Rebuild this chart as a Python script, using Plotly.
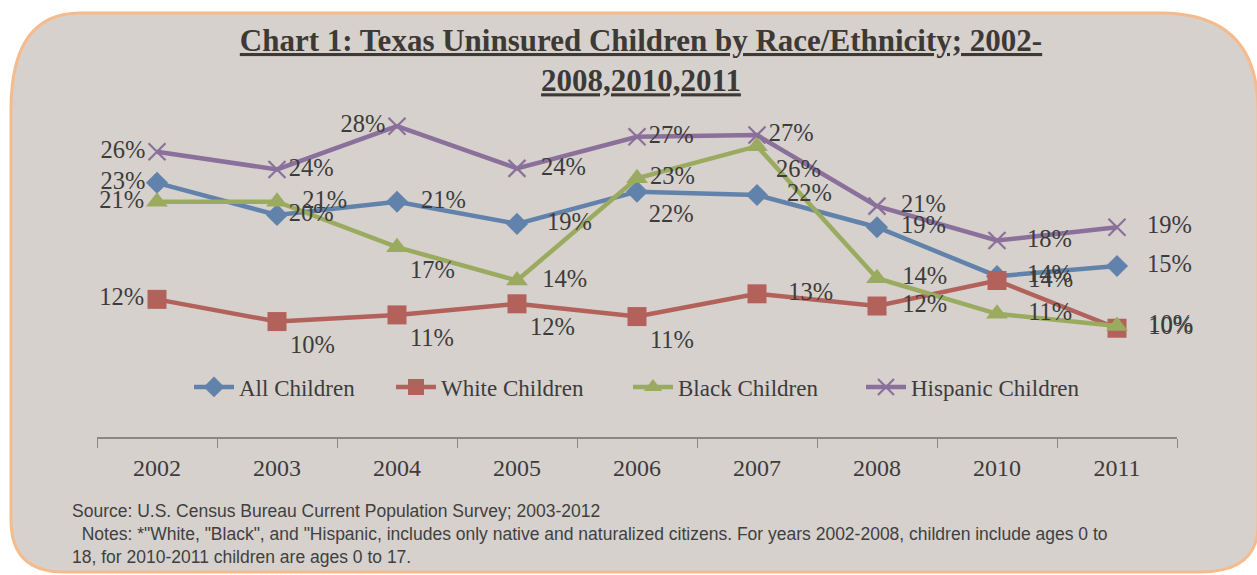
import plotly.graph_objects as go

W, H = 1257, 575
ML, MR, MT, MB = 97, 80, 104, 138

years = ["2002", "2003", "2004", "2005", "2006", "2007", "2008", "2010", "2011"]
all_children = [0.229, 0.200, 0.212, 0.192, 0.221, 0.218, 0.189, 0.1449, 0.154]
white_children = [0.124, 0.104, 0.110, 0.120, 0.1085, 0.129, 0.118, 0.141, 0.098]
black_children = [0.212, 0.212, 0.171, 0.141, 0.233, 0.262, 0.143, 0.111, 0.100]
hispanic_children = [0.257, 0.241, 0.280, 0.242, 0.2705, 0.272, 0.208, 0.177, 0.189]
series_names = ["All Children", "White Children", "Black Children", "Hispanic Children"]

# label placement (style)
all_pos = ["middle left", "middle right", "middle right", "middle right", "bottom right",
           "middle right", "middle right", "middle right", "middle right"]
white_pos = ["middle left", "bottom right", "bottom right", "bottom right", "bottom right",
             "middle right", "middle right", "middle right", "middle right"]
black_pos = ["middle left", "middle right", "bottom right", "middle right", "middle right",
             "bottom right", "middle right", "middle right", "middle right"]
hisp_pos = ["middle left", "middle right", "middle left", "middle right", "middle right",
            "middle right", "middle right", "middle right", "middle right"]
all_pad = [0, 0, 2, 3, 0, 3, 2, 3, 3]
white_pad = [0, 0, 0, 0, 0, 3, 2, 3, 3]
black_pad = [0, 2, 0, 2, 0, 1, 2, 3, 3]
hisp_pad = [0, 0, 0, 2, 0, 0, 2, 3, 3]

colors = ["#6182ab", "#b2615b", "#9aab60", "#8a709a"]
symbols = ["diamond", "square", "triangle-up", "x-thin"]
sizes = [17, 19, 19, 17]
legend_widths = [147, 182, 178, None]
values = [all_children, white_children, black_children, hispanic_children]
positions = [all_pos, white_pos, black_pos, hisp_pos]
pads = [all_pad, white_pad, black_pad, hisp_pad]

LABEL_FONT = "Liberation Serif"
TXT = "#3c3c3c"

fig = go.Figure()

for name, vals, col, sym, sz, lw in zip(series_names, values, colors, symbols, sizes, legend_widths):
    mk = dict(symbol=sym, size=sz, color=col)
    if sym == "x-thin":
        mk["line"] = dict(width=2.2, color=col)
    fig.add_trace(go.Scatter(
        x=years, y=vals, name=name, mode="lines+markers",
        line=dict(color=col, width=4.5), marker=mk, hoverinfo="skip",
        legendwidth=lw,
    ))

for name, vals, pos, pad, sz in zip(series_names, values, positions, pads, sizes):
    tmpl = ["\u00a0" * p + "%{y:.0%}" for p in pad]
    fig.add_trace(go.Scatter(
        x=years, y=vals, mode="markers+text", showlegend=False,
        marker=dict(size=sz, color="rgba(0,0,0,0)"),
        texttemplate=tmpl, textposition=pos, cliponaxis=False,
        textfont=dict(family=LABEL_FONT, size=24.5, color=TXT),
        hoverinfo="skip",
    ))

pw = W - ML - MR
ph = H - MT - MB


def px(xp):
    return (xp - ML) / pw


def py(yp):
    return (H - MB - yp) / ph


# rounded panel outline (pixel coords converted to paper)
pts = [
    ("M", [(11, 110)]),
    ("Q", [(11, 13), (80, 13)]),
    ("L", [(1160, 13)]),
    ("Q", [(1258, 13), (1258, 110)]),
    ("L", [(1258, 525)]),
    ("Q", [(1258, 572), (1200, 572)]),
    ("L", [(64, 572)]),
    ("Q", [(11, 572), (11, 520)]),
]
path = ""
for cmd, coords in pts:
    path += cmd + " ".join(f"{px(a):.5f},{py(b):.5f}" for a, b in coords) + " "
path += "Z"

fig.add_shape(type="path", path=path, xref="paper", yref="paper",
              fillcolor="#d6d1cd", line=dict(color="#f6bb8c", width=3), layer="below")

fig.update_layout(
    width=W, height=H,
    margin=dict(l=ML, r=MR, t=MT, b=MB, pad=0),
    paper_bgcolor="white",
    plot_bgcolor="rgba(0,0,0,0)",
    title=dict(
        text="<b><u>Chart 1: Texas Uninsured Children by Race/Ethnicity; 2002-</u></b><br><b><u>2008,2010,2011</u></b>",
        x=641 / W, xanchor="center", xref="container",
        y=1 - 51 / H, yanchor="top", yref="container",
        font=dict(family=LABEL_FONT, size=31, color="#3d3935"),
    ),
    showlegend=True,
    legend=dict(
        orientation="h", x=0.5, xanchor="center", y=py(387), yanchor="middle",
        bgcolor="rgba(0,0,0,0)",
        font=dict(family=LABEL_FONT, size=23, color=TXT),
        itemwidth=40, traceorder="normal",
    ),
    xaxis=dict(
        type="category", range=[-0.5, 8.5], tickson="boundaries",
        ticks="outside", ticklen=9, tickcolor="#8a8785", tickwidth=1.3,
        showline=True, linecolor="#8a8785", linewidth=1.5,
        showgrid=False, zeroline=False,
        tickfont=dict(family=LABEL_FONT, size=24, color=TXT),
        ticklabelstandoff=8,
        fixedrange=True,
    ),
    yaxis=dict(range=[0, 0.30], visible=False, showgrid=False, fixedrange=True),
)

fig.add_annotation(
    xref="paper", yref="paper", x=px(70), y=py(499), xanchor="left", yanchor="top",
    align="left", showarrow=False,
    text=("Source: U.S. Census Bureau Current Population Survey; 2003-2012<br>"
          "\u00a0\u00a0Notes: *\"White, \"Black\", and \"Hispanic, includes only native and naturalized citizens. "
          "For years 2002-2008, children include ages 0 to<br>"
          "18, for 2010-2011 children are ages 0 to 17."),
    font=dict(family="Liberation Sans", size=17.5, color="#404040"),
)

fig.write_html("out.html", config={"displayModeBar": False},
               post_script="document.body.style.margin='0px';")
